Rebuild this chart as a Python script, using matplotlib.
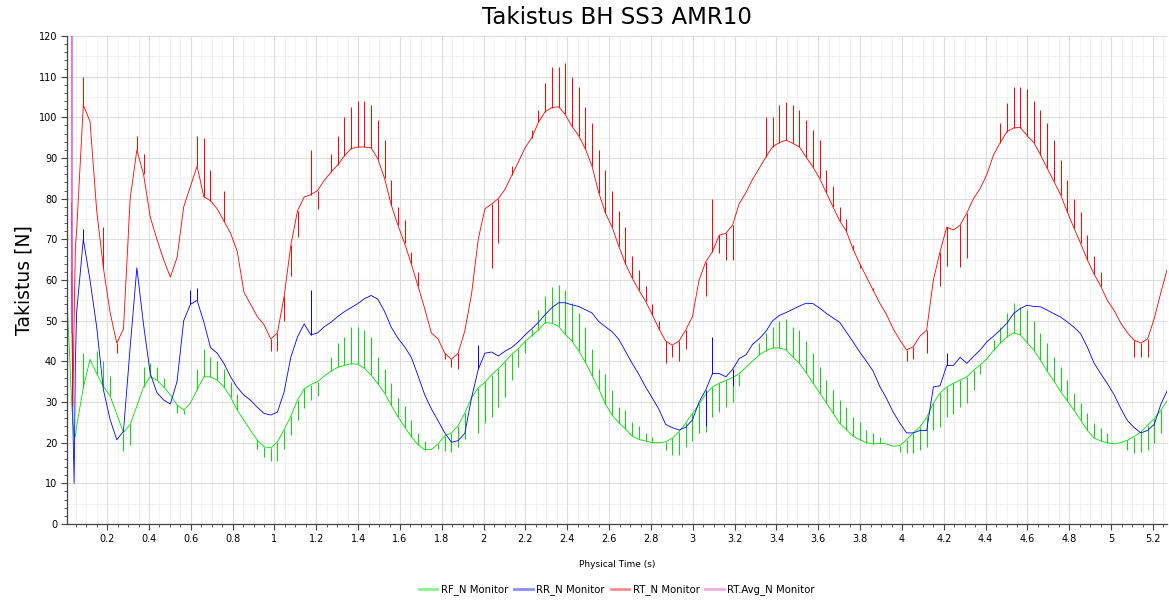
import numpy as np
import matplotlib
matplotlib.use("Agg")
import matplotlib.pyplot as plt
from matplotlib.ticker import MultipleLocator, FuncFormatter

# ---- data (Physical Time in s, force in N) ----
# first few samples before the regular output grid
start_t = [0.010, 0.020, 0.030, 0.036, 0.042, 0.048]
rf_start = [53, 42, 30, 25, 22, 21.5]
rr_start = [None, None, 62, 25, 10, 40]
rt_start = [None, None, 79, 29, 50, 68]

# regular output grid: one sample every 0.032 s starting at 0.054 s
grid_t0 = 0.054
grid_dt = 0.032

rf_base = [
    24, 33.5, 40.5, 37, 33.8, 31.5, 27, 22.5, 24.5, 29,
    33.7, 36.2, 35.4, 33.7, 31.8, 29.3, 28, 29.7, 33, 36.2,
    36.2, 35.4, 33.7, 31.2, 28, 25.5, 23, 20.6, 19, 18.7,
    20.2, 23.2, 26.5, 30.5, 33.2, 34.3, 35, 36.4, 37.6, 38.5,
    39, 39.4, 39.3, 38.3, 36.6, 34.5, 32.2, 29.2, 26.4, 23.9,
    21.5, 19.5, 18.3, 18.3, 19.7, 21.7, 22.4, 24.2, 27.3, 31,
    33.5, 34.8, 36.7, 38.2, 39.9, 41.7, 43.1, 44.9, 46.3, 47.7,
    49.5, 49.4, 48.6, 46.6, 45, 42.6, 39.8, 36.5, 33.3, 29.5,
    26.8, 24.9, 23.4, 21.6, 20.8, 20.4, 20, 20, 20.2, 21.1,
    22.7, 24.8, 27.2, 29.4, 32, 33.7, 34.6, 35.3, 36, 37,
    38.5, 40.1, 41.6, 42.6, 43.3, 43.3, 42.8, 41.1, 39.5, 37.2,
    34.7, 32.3, 29.8, 27.3, 24.8, 23.2, 21.6, 20.7, 20, 19.7,
    19.8, 19.7, 19.1, 19.3, 20.7, 22.4, 23.9, 26.2, 29.7, 32.2,
    33.7, 34.6, 35.4, 36.2, 37.8, 39.1, 40.6, 42.7, 44.5, 46,
    47, 46.5, 44.6, 42.8, 40.3, 37.6, 35.2, 32.6, 30.3, 28,
    25.6, 23, 21.2, 20.4, 20, 19.7, 20, 20.6, 21.5, 22.6,
    24.3, 25.9, 28, 30.5,
]
# spike tips on the same grid (None = no spike)
rf_tip = [
    None, 42, None, 42.5, 40, 36.5, None, 18, 19.5, None,
    38.6, 39.5, 38.5, 36, None, 27.3, 27, None, 38, 43,
    41, 40, 38, 35, 32, None, None, 18.5, 16.5, 15.5,
    15.5, 18.5, 22, 25.5, 28.5, 30.5, 31.5, None, 41, 44.5,
    46, 48.4, 48.4, 47.7, 46, 41, 38, 34.7, 31, 29,
    25.5, 22.5, 20.5, None, 18.5, 18, 17.8, 19, 21, None,
    22.4, 24.8, 26.3, 28.8, 31.2, 35.4, 38.5, 42, 48, 52.6,
    56, 58.3, 58.8, 57.5, 54.3, 51.8, 48.4, 43, 38, 37,
    33, 28.8, 28, 25, 24, 22.4, 21.5, None, 18.2, 17,
    17, 19, 20.5, 22.5, 22.6, 26.3, 27.5, 28.8, 30, 34,
    None, None, 44.5, 47, 48.4, 50, 50.4, 48.4, 47.7, 45,
    42, 38.6, 35.4, 33, 30.5, 28.8, 26.3, 25, 23, 22.4,
    21.4, None, None, 17.7, 17.4, 17.4, 18.2, 19, 23, 23.9,
    26.3, 27, 28.8, 29.7, 33, 37, None, 45.2, 48.4, 51.8,
    54.3, 53.4, 52.6, 50, 47, 44.5, 41, 38.6, 35.4, 32.2,
    29.7, 27.3, 24.8, 23.5, 22.5, None, None, 18.2, 17.4, 17.8,
    18.2, 20, 22.4, None,
]

rr_base = [
    52, 70, 60, 48.4, 33, 25.7, 20.7, 22.8, 43.5, 63,
    49, 37, 32.3, 30.5, 29.5, 35, 50, 54, 55, 49.7,
    43.4, 42, 39.5, 36.2, 33.6, 31.7, 30.4, 28.7, 27.2, 26.8,
    27.5, 32.5, 41, 46, 49.2, 46.5, 47, 48.5, 49.6, 51,
    52.2, 53.2, 54.2, 55.4, 56.2, 55.3, 52.3, 48.4, 45.7, 43.6,
    41, 36.5, 31.8, 28.3, 25.4, 22.4, 20.1, 20.5, 22.3, 31,
    38, 42, 42.3, 41.3, 42.5, 43.4, 44.8, 46.5, 48, 49.6,
    51.5, 53.2, 54.4, 54.4, 53.9, 53.5, 52.7, 51.9, 49.8, 48.5,
    47.3, 45.4, 42.5, 39.5, 36.8, 33.7, 31, 28.2, 24.5, 23.7,
    23.1, 23.8, 25.6, 30, 33, 37, 37, 36.2, 38, 40.7,
    41.6, 44.2, 45.6, 47.4, 50, 51.3, 52, 52.8, 53.6, 54.3,
    54.2, 53.1, 51.8, 50.7, 49.6, 47.2, 44.8, 42.3, 40, 37.6,
    33.8, 30.9, 27.5, 24.8, 22.4, 22.4, 23, 23, 33.7, 34,
    39, 39, 41, 39.5, 41.2, 42.8, 44.8, 46.2, 47.7, 49.4,
    51.8, 53, 53.8, 53.5, 53.4, 52.6, 51.7, 50.9, 49.7, 48.4,
    46.8, 43.5, 39.6, 37, 34.5, 31.8, 28.4, 25.4, 23.7, 22.4,
    23, 24.5, 29.5, 33,
]
rr_spike_t = [0.086, 0.598, 0.630, 1.174, 1.974, 3.062, 3.094, 3.190, 4.214]
rr_spike_tip = [72.5, 57.5, 58, 57.5, 44, 24, 46, 34, 42]

rt_base = [
    72, 103, 99, 77, 63, 52, 44.5, 48, 80, 92,
    86, 75.5, 70, 65, 60.7, 65.5, 78, 83, 88, 80.5,
    79.5, 77.5, 74.5, 71.5, 67, 57, 54, 51, 49, 45.5,
    47, 56, 68.5, 77, 80.4, 81, 82, 84.5, 86.5, 88.3,
    90.5, 92.3, 92.7, 92.7, 92.5, 89.8, 85, 78.5, 73.5, 69,
    64, 58.5, 53, 47, 45.5, 42, 40.5, 42, 47.5, 56.5,
    70, 77.5, 78.7, 80, 82.3, 85.7, 89, 92.5, 95, 98.8,
    101.4, 102.4, 102.6, 100.7, 97.8, 95.5, 92.3, 88, 81.5, 76.5,
    73, 68.3, 64, 60.5, 57.5, 54.8, 51.5, 48, 45, 44,
    45, 47.7, 51, 60, 64.5, 67, 71, 71.5, 73.5, 78.8,
    81.5, 84.8, 87.5, 90.3, 92.8, 93.8, 94.4, 93.6, 92.7, 90.2,
    87.8, 85, 81.5, 78, 74.6, 72, 67.6, 64, 60.8, 57.5,
    54.3, 51.5, 48, 45.2, 42.8, 43.6, 46.2, 47.7, 60, 67,
    73, 72.3, 73.5, 76.5, 80, 82.5, 86, 90.8, 93.8, 96.5,
    97.4, 97.5, 95.5, 93.8, 90.8, 87.5, 84.3, 81, 76.8, 72.8,
    69, 65, 61.5, 58.5, 55, 52.5, 49.4, 47, 45.2, 44.5,
    45.5, 50.5, 57, 63,
]
rt_spike_t = [
    0.086, 0.182, 0.246, 0.342, 0.374, 0.630, 0.662, 0.694, 0.758,
    0.982, 1.014, 1.046, 1.078, 1.110, 1.174, 1.206, 1.270, 1.302,
    1.334, 1.366, 1.398, 1.430, 1.462, 1.494, 1.526, 1.558, 1.590,
    1.622, 1.654, 1.686, 1.814, 1.846, 1.878, 2.038, 2.070, 2.134,
    2.230, 2.262, 2.294, 2.326, 2.358, 2.390, 2.422, 2.454, 2.486,
    2.518, 2.550, 2.582, 2.614, 2.646, 2.678, 2.710, 2.742, 2.774,
    2.806, 2.838, 2.870, 2.902, 2.934, 2.966, 3.062, 3.094, 3.126,
    3.158, 3.190, 3.350, 3.382, 3.414, 3.446, 3.478, 3.510, 3.542,
    3.574, 3.606, 3.638, 3.670, 3.702, 3.734, 3.766, 3.798, 3.830,
    3.862, 4.022, 4.054, 4.118, 4.182, 4.214, 4.278, 4.310, 4.470,
    4.502, 4.534, 4.566, 4.598, 4.630, 4.662, 4.694, 4.726, 4.758,
    4.790, 4.822, 4.854, 4.886, 4.918, 4.950, 5.110, 5.142, 5.174,
]
rt_spike_tip = [
    110, 73, 42, 95.5, 91, 95.5, 95, 87, 82,
    42.5, 42.5, 50, 61, 70.5, 92, 77.5, 91, 95.5,
    100, 102.6, 104, 104, 103, 99.3, 94.4, 84.6, 78,
    74.7, 67, 62, 40.5, 38.5, 38, 63, 69, 88,
    97, 101.8, 108.4, 112.4, 112.4, 113.3, 110, 107.5, 102.6,
    98.6, 92, 87, 82, 77, 73, 66, 62.5, 58.5,
    54, 50, 39.5, 41, 40, 43, 56, 80, 66.6,
    65, 65, 100, 100, 103, 103.8, 103, 101.8, 99.3,
    96.9, 94.4, 87, 83, 78, 75, 68.5, 63, 61,
    58, 40, 40.5, 42, 58.5, 63.5, 63.2, 65.5, 98.6,
    103.5, 107.5, 107.5, 107, 104, 101.8, 98.6, 94.4, 89.5,
    84.6, 80, 76.7, 71, 66, 62, 41, 41, 41,
]

avg_t = [0.0316, 0.0318]
avg_v = [300, 47]

# ---- assemble series ----
grid_t = np.round(grid_t0 + grid_dt * np.arange(len(rt_base)), 3)
time_s = np.concatenate([start_t, grid_t])


def full(start, base):
    return np.array(list(start) + list(base), dtype=float)


def tips_on_grid(spike_t, spike_tip):
    tips = np.full(len(grid_t), np.nan)
    for t, v in zip(spike_t, spike_tip):
        tips[np.argmin(np.abs(grid_t - t))] = v
    return tips


series = [
    ("RF_N Monitor", "#00e000", full(rf_start, rf_base), np.array(rf_tip, dtype=float)),
    ("RR_N Monitor", "#0000ff", full(rr_start, rr_base), tips_on_grid(rr_spike_t, rr_spike_tip)),
    ("RT_N Monitor", "#ff0000", full(rt_start, rt_base), tips_on_grid(rt_spike_t, rt_spike_tip)),
]

# ---- plot ----
fig = plt.figure(figsize=(11.69, 6.02), dpi=100)
ax = fig.add_axes([67 / 1169, 1 - 524 / 602, 1100 / 1169, 488 / 602])

for name, color, vals, tips in series:
    ax.plot(time_s, vals, color=color, lw=0.6, label=name)
    base = vals[len(start_t):]
    m = ~np.isnan(tips)
    ax.vlines(grid_t[m], base[m], tips[m], color=color, lw=0.7)
ax.plot(avg_t, avg_v, color="#dd44cc", lw=1.0, label="RT.Avg_N Monitor")

ax.set_xlim(0.008, 5.267)
ax.set_ylim(0, 120)
ax.xaxis.set_major_locator(MultipleLocator(0.2))
ax.xaxis.set_minor_locator(MultipleLocator(0.05))
ax.yaxis.set_major_locator(MultipleLocator(10))
ax.yaxis.set_minor_locator(MultipleLocator(2))
ax.xaxis.set_major_formatter(FuncFormatter(lambda v, p: f"{v:g}"))
ax.tick_params(which="major", length=4, width=0.8, color="#444444", labelsize=7, pad=3)
ax.tick_params(which="minor", length=2, width=0.6, color="#444444")

ax.grid(which="major", color="#dddddd", lw=0.8)
ax.grid(which="minor", axis="x", color="#f0f0f0", lw=0.6)
for y in range(5, 120, 10):
    ax.axhline(y, color="#f0f0f0", lw=0.6, zorder=0)
ax.set_axisbelow(True)

for side in ["top", "right"]:
    ax.spines[side].set_visible(False)
for side in ["left", "bottom"]:
    ax.spines[side].set_color("#444444")
    ax.spines[side].set_linewidth(0.9)

ax.set_title("Takistus BH SS3 AMR10", fontsize=16.5, pad=9)
ax.set_ylabel("Takistus [N]", fontsize=13.5, labelpad=4)
ax.set_xlabel("Physical Time (s)", fontsize=6.5, labelpad=12)

leg = fig.legend(loc="center", bbox_to_anchor=(617 / 1169, 1 - 590 / 602), ncol=4,
                 frameon=False, fontsize=7.3, handlelength=1.8, handletextpad=0.35,
                 columnspacing=0.6)
for line in leg.get_lines():
    line.set_linewidth(2)
    line.set_alpha(0.45)

fig.savefig("out.png", dpi=100)
